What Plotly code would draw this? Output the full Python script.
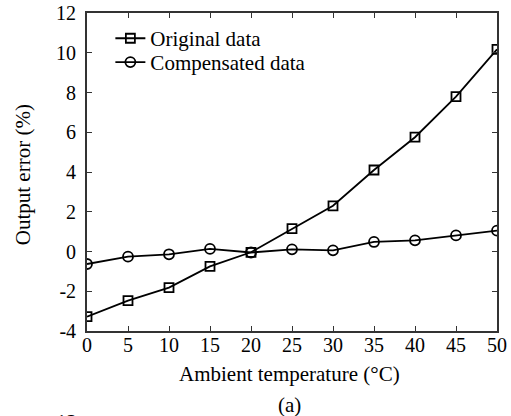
import plotly.graph_objects as go

temps = [0, 5, 10, 15, 20, 25, 30, 35, 40, 45, 50]
original = [-3.28, -2.47, -1.82, -0.75, -0.04, 1.15, 2.3, 4.1, 5.75, 7.79, 10.17]
compensated = [-0.63, -0.26, -0.14, 0.13, -0.05, 0.11, 0.06, 0.48, 0.56, 0.81, 1.05]
x_ticks = [0, 5, 10, 15, 20, 25, 30, 35, 40, 45, 50]
y_ticks = [-4, -2, 0, 2, 4, 6, 8, 10, 12]
y_tick_labels = ["-4", "-2", "0", "2", "4", "6", "8", "10", "12"]

font = "Liberation Serif, Times New Roman, serif"

fig = go.Figure()
fig.add_trace(go.Scatter(
    x=temps, y=original, mode="lines+markers", name="Original data",
    line=dict(color="black", width=1.8), legend="legend",
    marker=dict(symbol="square-open", size=9, color="black", line=dict(width=1.8)),
))
fig.add_trace(go.Scatter(
    x=temps, y=compensated, mode="lines+markers", name="Compensated data",
    line=dict(color="black", width=1.8), legend="legend2",
    marker=dict(symbol="circle-open", size=10, color="black", line=dict(width=1.8)),
))

axis_common = dict(
    showline=True, linecolor="#333", linewidth=1.8, mirror="ticks",
    ticks="inside", ticklen=5, tickcolor="#333", tickwidth=1.2,
    showgrid=False, zeroline=False, automargin=False,
    tickfont=dict(family=font, size=20, color="black"),
)

fig.update_xaxes(range=[0, 50], tickvals=x_ticks, ticklabelstandoff=-5, **axis_common)
fig.update_yaxes(range=[-4, 12], tickvals=y_ticks, ticktext=y_tick_labels,
                 ticklabelstandoff=5, **axis_common)

tfont = dict(family=font, size=21, color="black")
fig.add_annotation(text="Ambient temperature (°C)", xref="paper", yref="paper",
                   x=0.4927, y=-0.135, showarrow=False, xanchor="center", yanchor="middle",
                   font=tfont)
fig.add_annotation(text="Output error (%)", xref="paper", yref="paper",
                   x=-0.156, y=0.49, showarrow=False, textangle=-90,
                   xanchor="center", yanchor="middle", font=tfont)
fig.add_annotation(text="(a)", xref="paper", yref="paper", x=0.495, y=-0.2327,
                   showarrow=False, xanchor="center", yanchor="middle", font=tfont)
fig.add_annotation(text="12", xref="paper", yref="paper", x=-0.0488, y=-0.242,
                   showarrow=False, xanchor="center", yanchor="top", font=tfont)

leg_common = dict(xanchor="left", yanchor="top", bgcolor="rgba(0,0,0,0)", borderwidth=0,
                  font=dict(family=font, size=21, color="black"), itemwidth=30)
fig.update_layout(
    width=511, height=416,
    margin=dict(l=87, r=14, t=13, b=85),
    plot_bgcolor="white", paper_bgcolor="white",
    legend=dict(x=0.057, y=0.984, **leg_common),
    legend2=dict(x=0.057, y=0.909, **leg_common),
    showlegend=True,
)

fig.write_html("out.html", config={"displayModeBar": False},
               post_script="document.body.style.margin='0';")
